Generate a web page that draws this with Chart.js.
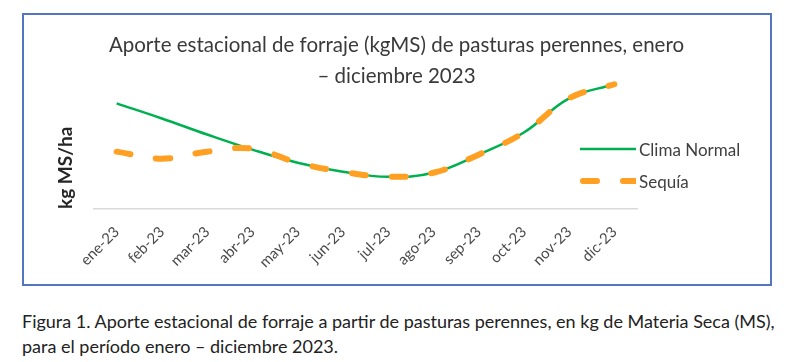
<!DOCTYPE html>
<html>
<head>
<meta charset="utf-8">
<script src="https://cdn.jsdelivr.net/npm/chart.js@4.4.1/dist/chart.umd.min.js"></script>
<style>
  body { margin: 0; background: #fff; width: 798px; height: 362px; position: relative; overflow: hidden; font-family: Lato, "Open Sans", sans-serif; }
  #marco { position: absolute; left: 22px; top: 13px; width: 746px; height: 269px; border: 2px solid #5277c0; }
  #wrap { position: absolute; left: 24px; top: 15px; width: 745px; height: 268px; }
  #leyenda { position: absolute; left: 580px; top: 133px; color: #404040; font-size: 17px; }
  .item { display: flex; align-items: center; height: 32px; }
  .muestra { width: 56px; height: 8px; margin-right: 3px; }
  #pie { position: absolute; left: 22px; top: 309px; color: #222; font-size: 18px; line-height: 25px; }
</style>
</head>
<body>
<div id="marco"></div>
<div id="wrap"><canvas id="grafico"></canvas></div>
<div id="leyenda"></div>
<div id="pie">Figura 1. Aporte estacional de forraje a partir de pasturas perennes, en kg de Materia Seca (MS),<br>para el período enero – diciembre 2023.</div>
<script>
// datos (kg MS/ha, escala aproximada)
const meses = ['ene-23', 'feb-23', 'mar-23', 'abr-23', 'may-23', 'jun-23', 'jul-23', 'ago-23', 'sep-23', 'oct-23', 'nov-23', 'dic-23'];
const climaNormal = [1050, 900, 740, 590, 460, 370, 320, 360, 540, 760, 1100, 1240];
const sequia = [570, 500, 570, 600, 460, 370, 320, 360, 540, 760, 1100, 1240];
const nombres = ['Clima Normal', 'Sequía'];
const colores = ['#00b050', '#ffa022'];

const titulo = ['Aporte estacional de forraje (kgMS) de pasturas perennes, enero', '– diciembre 2023'];

const ctx = document.getElementById('grafico').getContext('2d');
new Chart(ctx, {
  type: 'line',
  data: {
    labels: meses,
    datasets: [
      {
        label: nombres[0],
        data: climaNormal,
        borderColor: colores[0],
        borderWidth: 2.5,
        pointRadius: 0,
        tension: 0.4,
        clip: false,
        order: 2
      },
      {
        label: nombres[1],
        data: sequia,
        borderColor: colores[1],
        borderWidth: 6,
        borderDash: [14, 26],
        borderCapStyle: 'round',
        pointRadius: 0,
        tension: 0.4,
        clip: false,
        order: 1
      }
    ]
  },
  options: {
    responsive: true,
    maintainAspectRatio: false,
    animation: false,
    layout: { padding: 0 },
    plugins: {
      legend: { display: false },
      tooltip: { enabled: false },
      title: {
        display: true,
        text: titulo,
        color: '#3a3a3a',
        font: { family: 'Lato', size: 20.5, weight: 'normal', lineHeight: 1.5 },
        padding: { top: 15, bottom: 35 }
      }
    },
    scales: {
      x: {
        offset: true,
        grid: { display: false },
        border: { color: '#d9d9d9', width: 1.5 },
        ticks: {
          color: '#4a4a4a',
          font: { family: 'Lato', size: 15 },
          minRotation: 45,
          maxRotation: 45,
          padding: 6
        },
        afterFit: s => { s.height = 74; }
      },
      y: {
        min: 0,
        max: 820,
        grid: { display: false },
        border: { display: false },
        ticks: { display: false },
        title: {
          display: true,
          text: 'kg MS/ha',
          color: '#262626',
          font: { family: 'Lato', size: 19, weight: 'bold' },
          padding: { top: 30, bottom: 0 }
        },
        afterFit: s => { s.width = 70; }
      },
      // eje vacío a la derecha: deja sitio a la leyenda sin descentrar el título
      derecha: {
        type: 'linear',
        position: 'right',
        display: true,
        grid: { display: false },
        border: { display: false },
        ticks: { display: false },
        afterFit: s => { s.width = 132; }
      }
    }
  }
});

// leyenda en HTML, a la derecha del área de trazado
const ley = document.getElementById('leyenda');
nombres.forEach((n, i) => {
  const item = document.createElement('div');
  item.className = 'item';
  const c = document.createElement('canvas');
  c.className = 'muestra';
  c.width = 56; c.height = 8;
  const g = c.getContext('2d');
  g.strokeStyle = colores[i];
  if (i === 0) {
    g.lineWidth = 2.5;
  } else {
    g.lineWidth = 6;
    g.lineCap = 'round';
    g.setLineDash([14, 26]);
  }
  g.beginPath(); g.moveTo(i === 0 ? 0 : 3, 4); g.lineTo(56, 4); g.stroke();
  const t = document.createElement('span');
  t.textContent = n;
  item.appendChild(c);
  item.appendChild(t);
  ley.appendChild(item);
});
</script>
</body>
</html>
